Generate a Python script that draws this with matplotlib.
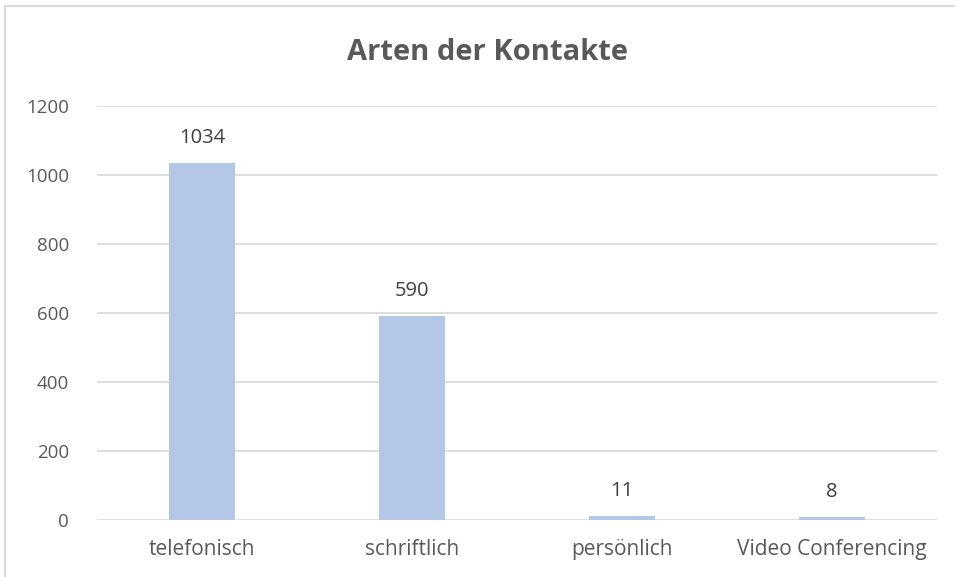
import matplotlib.pyplot as plt
from matplotlib.patches import Rectangle

categories = ["telefonisch", "schriftlich", "persönlich", "Video Conferencing"]
counts = [1034, 590, 11, 8]
y_ticks = [0, 200, 400, 600, 800, 1000, 1200]

BAR_COLOR = "#B4C7E7"
TEXT_COLOR = "#595959"
GRID_COLOR = "#D9D9D9"

plt.rcParams["font.family"] = ["Open Sans", "DejaVu Sans"]

fig = plt.figure(figsize=(9.55, 5.77), dpi=100)
# outer chart frame
fig.patches.append(
    Rectangle((5 / 955, -0.01), 1.0, 1 - 6 / 577 + 0.01, transform=fig.transFigure,
              fill=False, edgecolor="#D9D9D9", linewidth=1.5)
)
ax = fig.add_axes([97 / 955, 1 - 520 / 577, 840 / 955, 414 / 577])

x = range(len(categories))
ax.bar(x, counts, width=0.315, color=BAR_COLOR, zorder=2)
for xi, v in zip(x, counts):
    ax.text(xi, v + 45, str(v), ha="center", va="bottom", fontsize=14.5, color="#404040")

ax.set_xlim(-0.5, len(categories) - 0.5)
ax.set_ylim(0, 1200)
ax.set_yticks(y_ticks)
ax.set_xticks(list(x))
ax.set_xticklabels(categories)
ax.tick_params(axis="both", length=0, labelcolor=TEXT_COLOR)
ax.tick_params(axis="y", pad=20, labelsize=13.5)
ax.tick_params(axis="x", pad=14, labelsize=15)
ax.grid(axis="y", color=GRID_COLOR, linewidth=1.2, zorder=0)
for s in ax.spines.values():
    s.set_visible(False)

fig.text(487 / 955, 1 - 52 / 577, "Arten der Kontakte", ha="center", va="center",
         fontsize=21, fontweight="bold", color=TEXT_COLOR)

fig.savefig("out.png", dpi=100)
